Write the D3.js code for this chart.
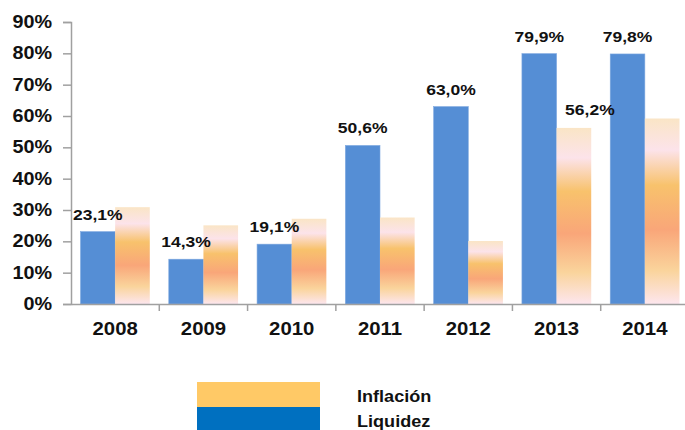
<!DOCTYPE html>
<html>
<head>
<meta charset="utf-8">
<script src="https://cdn.jsdelivr.net/npm/d3@7"></script>
<style>
  body { margin: 0; background: #fff; }
  text { font-family: "Liberation Sans", Arial, sans-serif; font-weight: bold; fill: #111; }
</style>
</head>
<body>
<div id="chart"></div>
<script>
// data
var years = ["2008", "2009", "2010", "2011", "2012", "2013", "2014"];
var liquidez = [23.1, 14.3, 19.1, 50.6, 63.0, 79.9, 79.8];
var inflacion = [30.9, 25.1, 27.2, 27.6, 20.1, 56.2, 59.2];
var yTicks = [0, 10, 20, 30, 40, 50, 60, 70, 80, 90];
var seriesNames = ["Liquidez", "Inflación"];

var width = 685, height = 430;
var stretch = 1.13; // text in the picture is a bit wide

var svg = d3.select("#chart")
    .append("svg")
    .attr("width", width)
    .attr("height", height);

var defs = svg.append("defs");
var grad = defs.append("linearGradient")
    .attr("id", "infGrad")
    .attr("x1", 0).attr("y1", 0)
    .attr("x2", 0).attr("y2", 1);
[[0, "#FAE5C6"], [0.17, "#FCE3EA"], [0.36, "#F8C26C"], [0.6, "#F9A679"], [0.82, "#FAD49C"], [1, "#FDE6EE"]]
    .forEach(function(s) {
        grad.append("stop").attr("offset", s[0]).attr("stop-color", s[1]);
    });

var x = d3.scaleBand().domain(years).range([71, 689]).padding(0);
var inner = d3.scaleBand().domain(seriesNames)
    .range([9.5, x.bandwidth() - 9.5]);
var y = d3.scaleLinear().domain([0, 90]).range([304, 22]);

var rows = years.map(function(yr, i) {
    return { year: yr, liq: liquidez[i], inf: inflacion[i] };
});

// bars
var g = svg.selectAll(".cat")
    .data(rows).enter()
    .append("g")
    .attr("class", "cat")
    .attr("transform", d => "translate(" + x(d.year) + ",0)");

g.append("rect")
    .attr("x", inner("Liquidez"))
    .attr("width", inner.bandwidth())
    .attr("y", d => y(d.liq))
    .attr("height", d => y(0) - y(d.liq))
    .attr("fill", "#558ED5")
    .attr("stroke", "#7EA8DF")
    .attr("stroke-width", 0.6);

g.append("rect")
    .attr("x", inner("Inflación"))
    .attr("width", inner.bandwidth())
    .attr("y", d => y(d.inf))
    .attr("height", d => y(0) - y(d.inf))
    .attr("fill", "url(#infGrad)");

// value labels over liquidez bars
g.append("text")
    .attr("text-anchor", "middle")
    .attr("font-size", 15.5)
    .attr("transform", d => "translate(" + (inner("Liquidez") + inner.bandwidth() / 2) + "," + (y(d.liq) - 12) + ") scale(" + stretch + ",1)")
    .text(d => d.liq.toFixed(1).replace(".", ",") + "%");

// the one inflation label (2013)
svg.append("text")
    .attr("text-anchor", "middle")
    .attr("font-size", 15.5)
    .attr("transform", "translate(" + (x("2013") + inner("Inflación") + inner.bandwidth() / 2 + 16) + "," + (y(inflacion[5]) - 13) + ") scale(" + stretch + ",1)")
    .text(inflacion[5].toFixed(1).replace(".", ",") + "%");

// y axis
var yAxis = svg.append("g")
    .attr("transform", "translate(71,0)")
    .call(d3.axisLeft(y).tickValues(yTicks).tickSize(8).tickPadding(8.8)
        .tickFormat(d => d + "%"));
yAxis.select(".domain").attr("stroke", "#A0A0A0").attr("stroke-width", 1.5);
yAxis.selectAll(".tick line").attr("stroke", "#A0A0A0").attr("stroke-width", 1.5);
yAxis.selectAll(".tick text")
    .attr("font-size", 17.5)
    .attr("font-family", "Liberation Sans, Arial, sans-serif")
    .attr("font-weight", "bold")
    .attr("fill", "#111")
    .attr("transform", "scale(" + stretch + ",1)");

// x axis: baseline, boundary ticks, labels
var xAxis = svg.append("g")
    .attr("transform", "translate(0," + y(0) + ")")
    .call(d3.axisBottom(x).tickSize(0).tickPadding(0).tickFormat(""));
xAxis.select(".domain").attr("stroke", "#A0A0A0").attr("stroke-width", 1.5);

xAxis.selectAll(".bound")
    .data(years.slice(1)).enter()
    .append("line")
    .attr("x1", d => x(d)).attr("x2", d => x(d))
    .attr("y1", 0).attr("y2", 7)
    .attr("stroke", "#A0A0A0").attr("stroke-width", 1.5);

svg.selectAll(".xlab")
    .data(years).enter()
    .append("text")
    .attr("text-anchor", "middle")
    .attr("font-size", 18)
    .attr("transform", d => "translate(" + (x(d) + x.bandwidth() / 2) + ",335) scale(" + stretch + ",1)")
    .text(d => d);

// legend
var legendColors = ["#FFC966", "#0070C0"];
var legendLabels = ["Inflación", "Liquidez"];
var legend = svg.selectAll(".legend")
    .data(legendLabels).enter()
    .append("g")
    .attr("transform", (d, i) => "translate(197," + (382 + i * 25) + ")");
legend.append("rect")
    .attr("width", 123).attr("height", 25)
    .attr("fill", (d, i) => legendColors[i]);
legend.append("text")
    .attr("font-size", 16)
    .attr("transform", "translate(160,20) scale(" + stretch + ",1)")
    .text(d => d);
</script>
</body>
</html>
